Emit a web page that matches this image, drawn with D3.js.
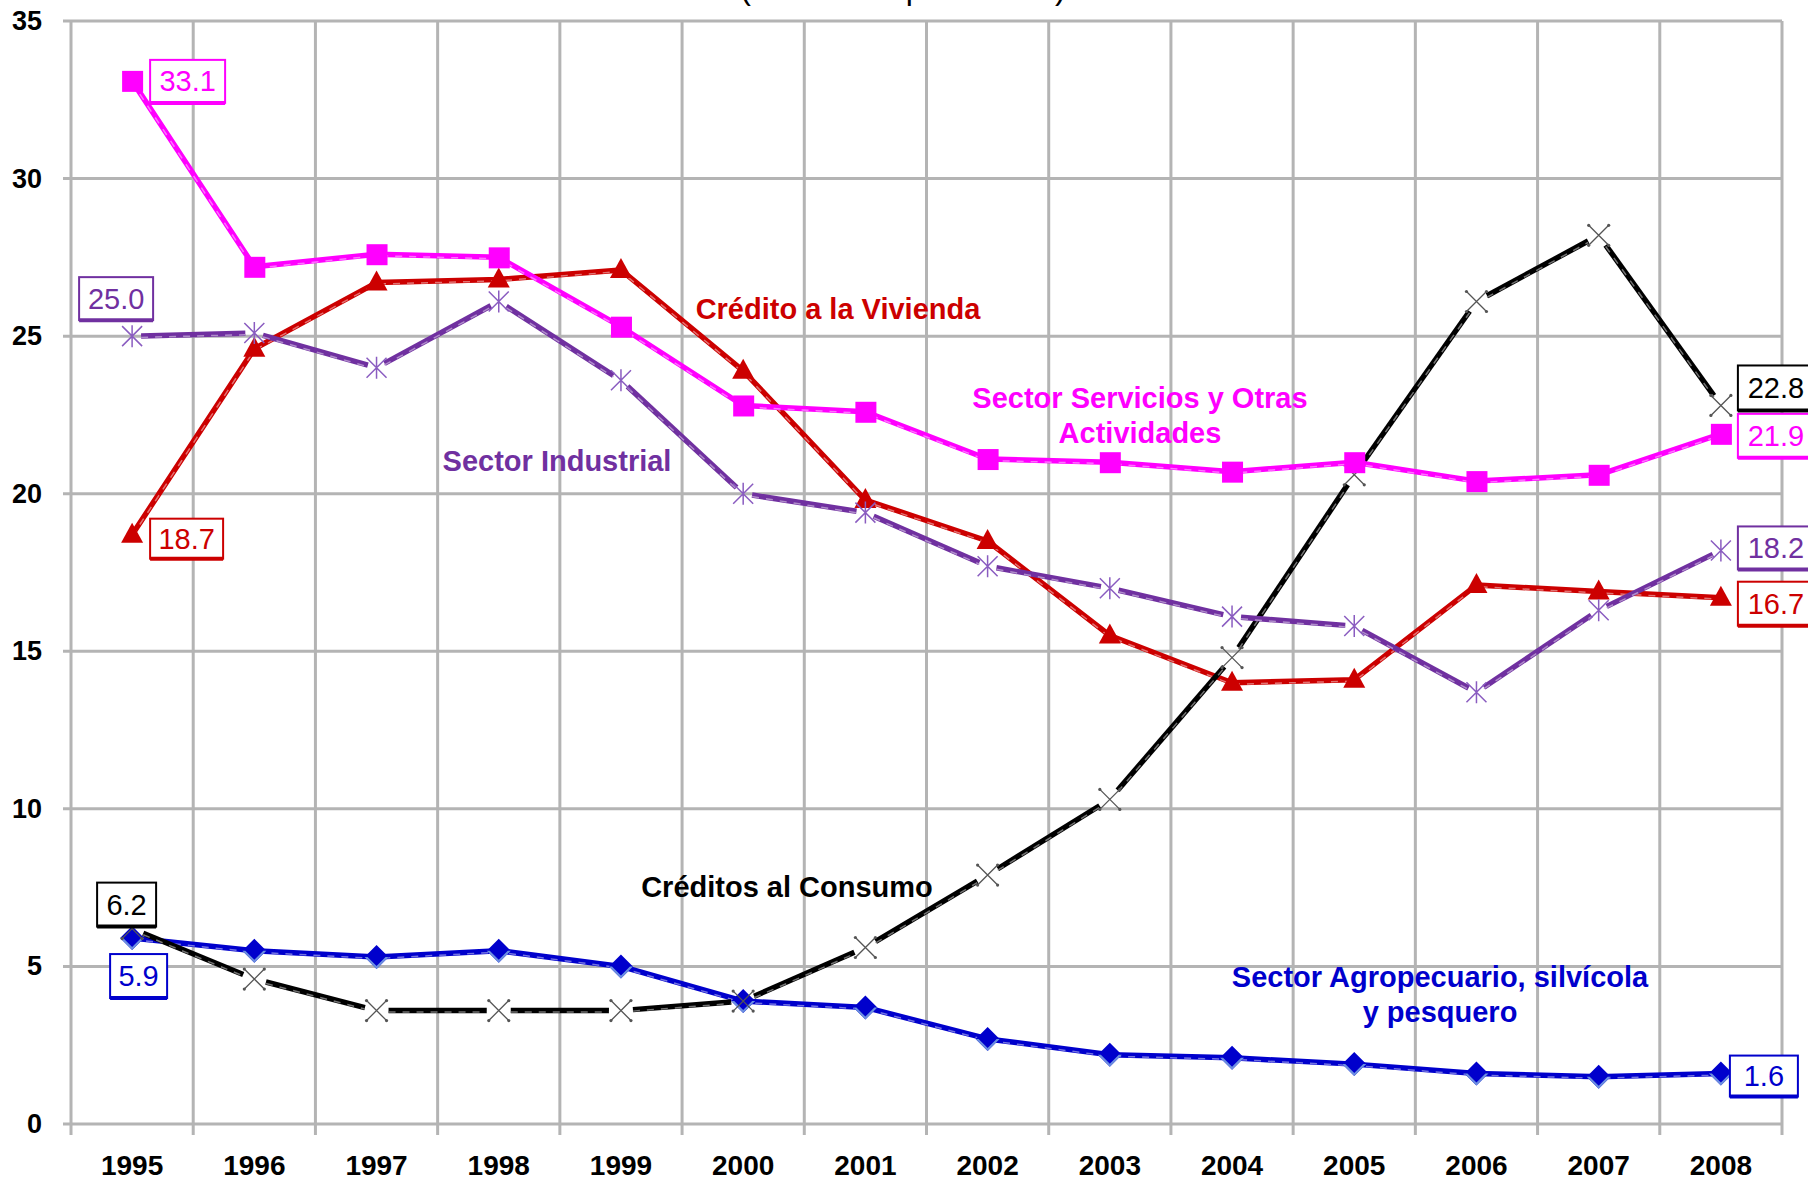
<!DOCTYPE html>
<html><head><meta charset="utf-8">
<script src="https://cdn.jsdelivr.net/npm/d3@7"></script>
<style>
html,body{margin:0;padding:0;background:#fff;overflow:hidden;}
svg{display:block;font-family:"Liberation Sans",Arial,sans-serif;}
</style></head>
<body>
<svg id="chart" width="1808" height="1181"></svg>
<script>
const years = ["1995","1996","1997","1998","1999","2000","2001","2002","2003","2004","2005","2006","2007","2008"];
const yTicks = [0,5,10,15,20,25,30,35];
const servicios   = [33.1,27.2,27.6,27.5,25.3,22.8,22.6,21.1,21.0,20.7,21.0,20.4,20.6,21.9];
const vivienda    = [18.7,24.6,26.7,26.8,27.1,23.9,19.8,18.5,15.5,14.0,14.1,17.1,16.9,16.7];
const industrial  = [25.0,25.1,24.0,26.1,23.6,20.0,19.4,17.7,17.0,16.1,15.8,13.7,16.3,18.2];
const consumo     = [6.2,4.6,3.6,3.6,3.6,3.9,5.6,7.9,10.3,14.8,20.6,26.1,28.2,22.8];
const agro        = [5.9,5.5,5.3,5.5,5.0,3.9,3.7,2.7,2.2,2.1,1.9,1.6,1.5,1.6];

const seriesNames = ["Crédito a la Vivienda","Créditos al Consumo","Sector Agropecuario, silvícola y pesquero","Sector Industrial","Sector Servicios y Otras Actividades"];
const titleText = "(Estructura porcentual)";

(function(){
const svg = d3.select("#chart");
const pL = 71, pR = 1782, pT = 21, pB = 1124;
const x = d3.scaleBand().domain(years).range([pL, pR]).padding(0);
const y = d3.scaleLinear().domain([0,35]).range([pB, pT]);
const cx = d => x(d) + x.bandwidth()/2;
const grid = "#b4b4b4";

// title (cut at top, as in the reference)
svg.append("text").attr("x", 903).attr("y", -1).attr("text-anchor","middle")
  .attr("font-size", 32).attr("fill","#000").text(titleText);

// horizontal gridlines
svg.append("g").selectAll("line").data(yTicks).join("line")
  .attr("x1", pL-8).attr("x2", pR).attr("y1", d=>y(d)).attr("y2", d=>y(d))
  .attr("stroke", grid).attr("stroke-width", 3);
// vertical gridlines at category boundaries
const bounds = years.map(d=>x(d)).concat([pR]);
svg.append("g").selectAll("line").data(bounds).join("line")
  .attr("x1", d=>d).attr("x2", d=>d).attr("y1", pT).attr("y2", pB+11)
  .attr("stroke", grid).attr("stroke-width", 3);

// y labels
svg.append("g").selectAll("text").data(yTicks).join("text")
  .attr("x", 42).attr("y", d=>y(d)+9).attr("text-anchor","end")
  .attr("font-size", 27).attr("font-weight","bold").text(d=>d);
// x labels
svg.append("g").selectAll("text").data(years).join("text")
  .attr("x", d=>cx(d)).attr("y", 1175).attr("text-anchor","middle")
  .attr("font-size", 28).attr("font-weight","bold").text(d=>d);

function lighter(c){ return d3.interpolateRgb(c, "#fff")(0.45); }

function drawLine(vals, color, gap){
  const pts = vals.map((v,i)=>[cx(years[i]), y(v)]);
  const g = svg.append("g");
  if(!gap){
    const line = d3.line();
    g.append("path").attr("d", line(pts)).attr("fill","none").attr("stroke",color).attr("stroke-width",5.5).attr("stroke-linejoin","round");
    g.append("path").attr("d", line(pts.map(p=>[p[0],p[1]+1.5]))).attr("fill","none").attr("stroke",lighter(color)).attr("stroke-width",1.5).attr("stroke-dasharray","7,7");
  } else {
    for(let i=0;i<pts.length-1;i++){
      const [x1,y1]=pts[i],[x2,y2]=pts[i+1];
      const dx=x2-x1, dy=y2-y1, L=Math.hypot(dx,dy);
      const ux=dx/L, uy=dy/L;
      const a=[x1+ux*gap,y1+uy*gap], b=[x2-ux*gap,y2-uy*gap];
      g.append("line").attr("x1",a[0]).attr("y1",a[1]).attr("x2",b[0]).attr("y2",b[1])
        .attr("stroke",color).attr("stroke-width",5.5);
      g.append("line").attr("x1",a[0]).attr("y1",a[1]+1.5).attr("x2",b[0]).attr("y2",b[1]+1.5)
        .attr("stroke",lighter(color)).attr("stroke-width",1.5).attr("stroke-dasharray","7,7");
    }
  }
  return pts;
}

const cRed="#cc0000", cMag="#ff00ff", cPur="#7030a0", cBlk="#000000", cBlu="#0000cc";

// Vivienda
const pV = drawLine(vivienda, cRed, 0);
svg.append("g").selectAll("path").data(pV).join("path")
  .attr("transform", p=>`translate(${p[0]},${p[1]})`)
  .attr("d","M0,-12L11,8L-11,8Z").attr("fill",cRed);

// Agro
const pA = drawLine(agro, cBlu, 0);
const ga = svg.append("g").selectAll("g").data(pA).join("g").attr("transform", p=>`translate(${p[0]},${p[1]})`);
ga.append("path").attr("d","M0,-12L12,0L0,12L-12,0Z").attr("fill",cBlu);
ga.append("path").attr("d","M-12,0L0,12L12,0L9,0L0,9L-9,0Z").attr("fill","#6c8fe0");

// Consumo
const pC = drawLine(consumo, cBlk, 12);
const gc = svg.append("g").selectAll("g").data(pC).join("g").attr("transform", p=>`translate(${p[0]},${p[1]})`);
gc.append("path").attr("d","M-10,-10L10,10M10,-10L-10,10").attr("stroke","#555").attr("stroke-width",1.3).attr("fill","none");
[[-10,-10],[10,10],[10,-10],[-10,10]].forEach(c=>gc.append("circle").attr("cx",c[0]).attr("cy",c[1]).attr("r",1.6).attr("fill","#555"));

// Industrial
const pI = drawLine(industrial, cPur, 9);
const gi = svg.append("g").selectAll("g").data(pI).join("g").attr("transform", p=>`translate(${p[0]},${p[1]})`);
gi.append("path").attr("d","M-10,-10L10,10M10,-10L-10,10M0,-11L0,11").attr("stroke","#8a5cc0").attr("stroke-width",1.5).attr("fill","none");

// Servicios
const pS = drawLine(servicios, cMag, 0);
svg.append("g").selectAll("rect").data(pS).join("rect")
  .attr("x", p=>p[0]-10).attr("y", p=>p[1]-10).attr("width",21).attr("height",21).attr("fill",cMag);

// value boxes
function box(xl, yt, w, h, txt, color){
  const g = svg.append("g");
  g.append("rect").attr("x",xl).attr("y",yt).attr("width",w).attr("height",h)
    .attr("fill","#fff").attr("stroke",color).attr("stroke-width",2);
  g.append("line").attr("x1",xl).attr("x2",xl+w).attr("y1",yt+h).attr("y2",yt+h).attr("stroke",color).attr("stroke-width",4);
  g.append("text").attr("x",xl+w/2).attr("y",yt+h/2+10).attr("text-anchor","middle")
    .attr("font-size",29).attr("fill",color).text(txt);
}
const fmt = d3.format(".1f");
const first = 0, last = years.length-1;
box(pS[first][0]+18, pS[first][1]-21, 75, 43, fmt(servicios[first]), cMag);
box(pI[first][0]-53, pI[first][1]-59, 74, 43, fmt(industrial[first]), cPur);
box(pV[first][0]+18, pV[first][1]-16, 73, 40, fmt(vivienda[first]), cRed);
box(pC[first][0]-35, pC[first][1]-46, 59, 44, fmt(consumo[first]), cBlk);
box(pA[first][0]-22, pA[first][1]+16, 57, 44, fmt(agro[first]), cBlu);

box(pC[last][0]+17, pC[last][1]-40, 76, 45, fmt(consumo[last]), cBlk);
box(pS[last][0]+17, pS[last][1]-20, 76, 44, fmt(servicios[last]), cMag);
box(pI[last][0]+17, pI[last][1]-24, 76, 43, fmt(industrial[last]), cPur);
box(pV[last][0]+17, pV[last][1]-16, 76, 44, fmt(vivienda[last]), cRed);
box(pA[last][0]+9, pA[last][1]-18, 68, 41, fmt(agro[last]), cBlu);

// series labels
function label(lines, xc, y0, color){
  const t = svg.append("text").attr("x",xc).attr("y",y0).attr("text-anchor","middle")
    .attr("font-size",29).attr("font-weight","bold").attr("fill",color);
  lines.forEach((l,i)=>t.append("tspan").attr("x",xc).attr("dy", i===0?0:35).text(l));
}
label([seriesNames[0]], 838, 319, cRed);
label(["Sector Servicios y Otras","Actividades"], 1140, 408, cMag);
label([seriesNames[3]], 557, 471, cPur);
label([seriesNames[1]], 787, 897, cBlk);
label(["Sector Agropecuario, silvícola","y pesquero"], 1440, 987, cBlu);
})();
</script>
</body></html>
